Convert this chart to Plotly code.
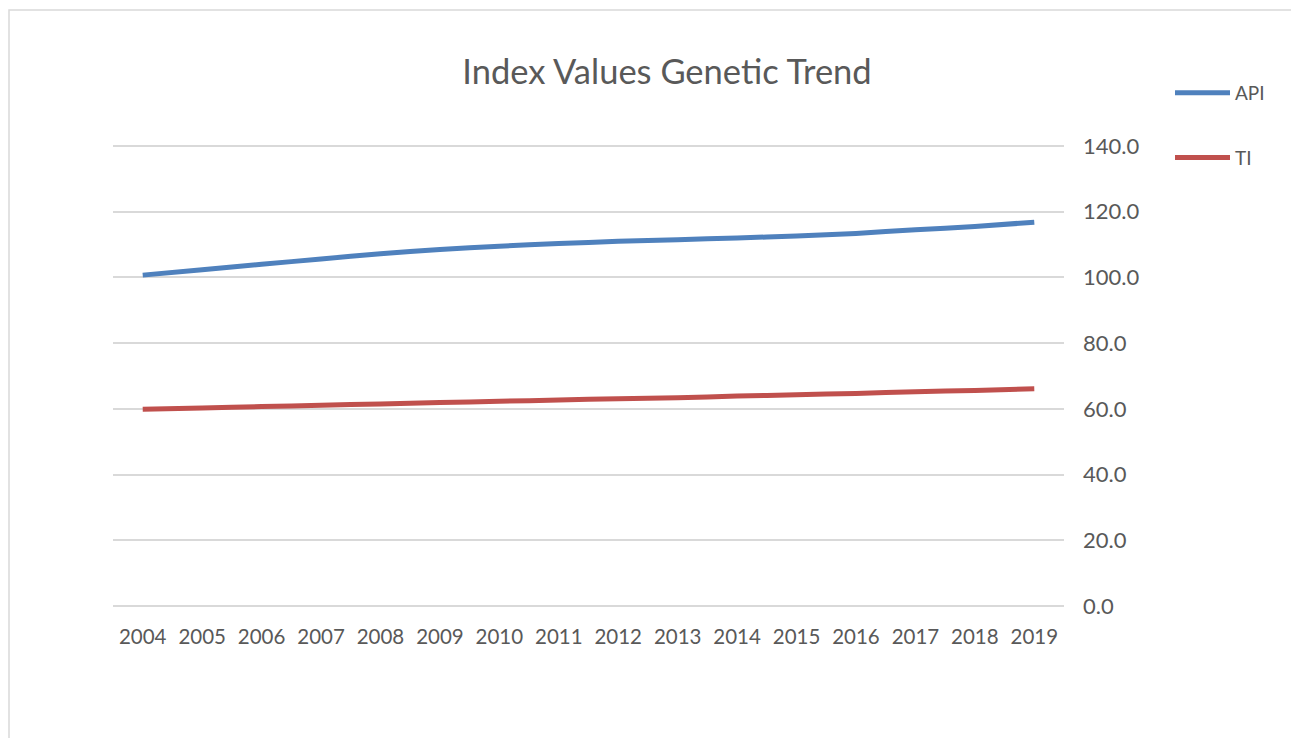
import plotly.graph_objects as go

years = [str(y) for y in range(2004, 2020)]
api = [100.7, 102.3, 104.0, 105.6, 107.2, 108.5, 109.5, 110.3, 111.0, 111.5, 112.0, 112.6, 113.4, 114.5, 115.5, 116.8]
ti = [59.9, 60.3, 60.7, 61.1, 61.5, 61.9, 62.3, 62.7, 63.1, 63.4, 63.9, 64.3, 64.7, 65.2, 65.6, 66.1]
y_ticks = [0, 20, 40, 60, 80, 100, 120, 140]

OFF = 8  # page body margin
W, H = 1299, 738
PAD = 0.6
ppu = (606 - 146) / 140.0
L, R = 113 - OFF, 1064 - OFF
T = 146 - OFF - PAD * ppu
B = 606 - OFF + PAD * ppu
pw, ph = R - L, B - T

font = "Lato"
grey = "#595959"

fig = go.Figure()
fig.add_trace(go.Scatter(x=years, y=api, name="API", mode="lines",
                         line=dict(color="#4F81BD", width=5, shape="spline", smoothing=0.5),
                         legendgroup="a"))
fig.add_trace(go.Scatter(x=years, y=ti, name="TI", mode="lines",
                         line=dict(color="#C0504D", width=5, shape="spline", smoothing=0.5),
                         legendgroup="b"))

def px_x(x):
    return (x - OFF - L) / pw

def px_y(y):
    return (B - (y - OFF)) / ph

fig.update_layout(
    width=W, height=H,
    margin=dict(l=L, r=W - R, t=T, b=H - B, pad=0),
    paper_bgcolor="white", plot_bgcolor="white",
    title=dict(text="Index Values Genetic Trend", x=px_x(667), xanchor="center",
               y=1 - (72 - OFF) / H, yanchor="middle", xref="paper",
               font=dict(family=font, size=34.5, color=grey)),
    font=dict(family=font, color=grey),
    showlegend=True,
    legend=dict(x=px_x(1170), y=px_y(74), xanchor="left", yanchor="top",
                font=dict(family=font, size=19, color=grey), itemwidth=55,
                tracegroupgap=37, traceorder="grouped", bgcolor="rgba(0,0,0,0)"),
    xaxis=dict(type="category", range=[-0.5, 15.5], showgrid=False, showline=False, ticks="",
               tickfont=dict(family=font, size=20.5, color=grey),
               ticklabelstandoff=14, zeroline=False),
    yaxis=dict(side="right", range=[-PAD, 140 + PAD], tickvals=y_ticks,
               ticktext=[f"{v:.1f}" for v in y_ticks],
               showgrid=True, gridcolor="#D9D9D9", gridwidth=1.5,
               zeroline=False, showline=False, ticks="",
               tickfont=dict(family=font, size=22, color=grey),
               ticklabelstandoff=18),
)

fig.add_shape(type="rect", xref="paper", yref="paper",
              x0=px_x(9), x1=px_x(1320), y0=px_y(780), y1=px_y(10),
              line=dict(color="#D9D9D9", width=1.5), fillcolor="rgba(0,0,0,0)", layer="below")

fig.write_html("out.html")
